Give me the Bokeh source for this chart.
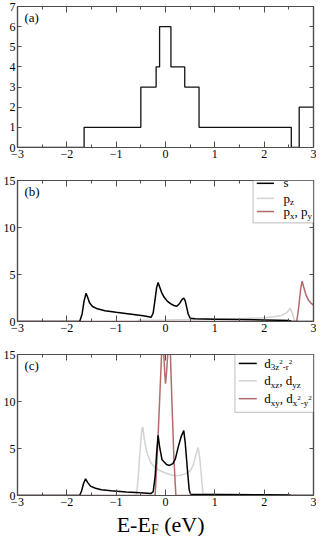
from bokeh.plotting import figure
from bokeh.models import Range1d, FixedTicker, LinearAxis, Label, BoxAnnotation
from bokeh.layouts import column
from bokeh.embed import file_html
from bokeh.resources import INLINE

# ---------------- data ----------------
X_TICKS = [-3, -2, -1, 0, 1, 2, 3]
X_MINOR = [-2.5, -1.5, -0.5, 0.5, 1.5, 2.5]
Y_TICKS_A = [0, 1, 2, 3, 4, 5, 6, 7]
Y_TICKS_BC = [0, 5, 10, 15]

# (a) step histogram
A_EDGES = [-3, -1.65, -0.5, -0.19, -0.12, 0.11, 0.39, 0.68, 2.55, 2.71, 3]
A_LEVELS = [0, 1, 3, 4, 6, 4, 3, 1, 0, 2]

# (b) s
S_E = [-3, -1.74, -1.69, -1.65, -1.61, -1.58, -1.54, -1.48, -1.38, -1.23, -1.0, -0.77,
       -0.45, -0.29, -0.25, -0.21, -0.18, -0.15, -0.12, -0.08, -0.03, 0.03, 0.1, 0.17,
       0.23, 0.29, 0.33, 0.37, 0.4, 0.43, 0.46, 0.5, 0.6, 1.0, 1.5, 2.0, 2.3, 2.5, 2.56, 3]
S_V = [0, 0, 0.8, 2.2, 3.0, 2.6, 2.0, 1.6, 1.35, 1.15, 0.98, 0.83,
       0.6, 0.45, 0.9, 2.4, 3.6, 4.15, 3.7, 3.1, 2.6, 2.2, 1.9, 1.7,
       1.62, 1.95, 2.3, 2.5, 2.2, 1.5, 0.8, 0.35, 0.28, 0.25, 0.21, 0.17, 0.14, 0.11, 0, 0]
# (b) p_z
PZ_E = [-3, -0.58, -0.55, 0.0, 0.5, 1.0, 1.5, 2.0, 2.2, 2.35, 2.45, 2.53, 2.57, 2.62, 3]
PZ_V = [0, 0, 0.12, 0.15, 0.2, 0.25, 0.3, 0.4, 0.5, 0.65, 0.9, 1.4, 0.9, 0, 0]
# (b) p_x, p_y
PXY_E = [-3, 2.66, 2.7, 2.74, 2.77, 2.8, 2.85, 2.9, 2.95, 3.0]
PXY_V = [0, 0, 1.5, 3.5, 4.3, 3.7, 2.8, 2.25, 1.95, 1.75]

# (c) d_{3z^2-r^2}
DZ_E = [-3, -1.74, -1.7, -1.66, -1.62, -1.58, -1.52, -1.42, -1.3, -1.1, -0.8, -0.5,
        -0.3, -0.25, -0.21, -0.18, -0.15, -0.12, -0.07, 0.02, 0.08, 0.15, 0.2, 0.26,
        0.32, 0.37, 0.4, 0.44, 0.48, 0.51, 1.0, 2.0, 2.5, 2.56, 3]
DZ_V = [0, 0, 0.5, 1.3, 1.77, 1.4, 1.0, 0.77, 0.62, 0.5, 0.38, 0.28,
        0.2, 0.4, 2.0, 4.5, 6.4, 5.2, 3.8, 3.3, 3.2, 3.4, 3.9, 5.2,
        6.3, 6.9, 5.6, 3.0, 0.6, 0.12, 0.1, 0.07, 0.05, 0, 0]
# (c) d_xz, d_yz
DXZ_E = [-3, -0.59, -0.56, -0.52, -0.48, -0.46, -0.43, -0.38, -0.3, -0.2, -0.1, 0.0,
         0.1, 0.2, 0.3, 0.4, 0.5, 0.56, 0.61, 0.66, 0.69, 0.72, 0.76, 1.0, 2.0, 2.5, 2.55, 3]
DXZ_V = [0, 0, 1.5, 4.5, 7.0, 7.3, 6.0, 4.6, 3.5, 2.9, 2.6, 2.4,
         2.2, 2.1, 2.15, 2.3, 2.6, 3.2, 4.2, 5.1, 4.2, 2.5, 0.15, 0.12, 0.08, 0.06, 0, 0]
# (c) d_xy, d_{x^2-y^2}
DXY_E = [-3, -0.21, -0.17, -0.12, -0.08, -0.06, -0.035, -0.015, 0.0, 0.02, 0.045,
         0.07, 0.1, 0.13, 0.17, 0.21, 3]
DXY_V = [0, 0, 4, 10, 15, 17, 15, 13, 11.9, 13, 15, 17, 15, 10, 4, 0, 0]

# ---------------- styling ----------------
FRAME = "#4d4d4d"
BLACK = "#000000"
GREY = "#d3d3d3"
RED = "#b36b6b"
FONT = "Liberation Serif"
TICK_SIZE = "12px"

W = {'d': 0.5, 'p': 0.5, 's': 0.389, 'x': 0.5, 'y': 0.5, 'z': 0.444, ',': 0.25, ' ': 0.25,
     '3': 0.5, '2': 0.5, '-': 0.333, 'r': 0.333, 'E': 0.611, '(': 0.333, 'e': 0.444,
     'V': 0.722, ')': 0.333, 'F': 0.556, 'a': 0.444, 'b': 0.5, 'c': 0.444}


def twidth(t, size):
    return sum(W.get(ch, 0.5) for ch in t) * size


def rich(p, x, y, pieces, dx0=0.0, dy0=0.0):
    """pieces: list of (text, size, dy) drawn left to right from (x, y)."""
    off = dx0
    for text, size, dy in pieces:
        stripped = text.lstrip(" ")
        off += twidth(text[:len(text) - len(stripped)], size)
        p.add_layout(Label(x=x, y=y, text=stripped, x_offset=off, y_offset=dy0 + dy,
                           text_font=FONT, text_font_size=f"{size}px",
                           text_align="left", text_baseline="middle",
                           text_color="black"))
        off += twidth(stripped, size)
    return off


def make_fig(ymax, yticks, h, top, bottom):
    p = figure(width=316, height=h, x_range=Range1d(-3, 3), y_range=Range1d(0, ymax),
               output_backend="svg", toolbar_location=None, tools="",
               min_border_left=15, min_border_right=3, min_border_top=top,
               min_border_bottom=bottom, x_axis_type=None, y_axis_type=None)
    p.xgrid.visible = False
    p.ygrid.visible = False
    p.outline_line_color = FRAME
    p.outline_line_width = 1.2
    p.background_fill_color = "white"
    p.border_fill_color = "white"

    xt = FixedTicker(ticks=X_TICKS, minor_ticks=X_MINOR)
    yt = FixedTicker(ticks=yticks)
    blank_x = {t: "" for t in X_TICKS}
    blank_y = {t: "" for t in yticks}
    for loc, ticker, blank in (("below", xt, None), ("above", xt, blank_x),
                               ("left", yt, None), ("right", yt, blank_y)):
        ax = LinearAxis(ticker=ticker)
        ax.axis_line_color = FRAME
        ax.axis_line_width = 1.2
        ax.major_tick_line_color = FRAME
        ax.minor_tick_line_color = FRAME
        ax.major_tick_out = 0
        ax.minor_tick_out = 0
        if loc in ("below", "above"):
            ax.major_tick_in = 6
            ax.minor_tick_in = 3
        else:
            ax.major_tick_in = 4
            ax.minor_tick_in = 0
        ax.major_label_text_font = FONT
        ax.major_label_text_color = "black"
        if blank is None:
            ax.major_label_text_font_size = TICK_SIZE
            ax.major_label_standoff = 2
        else:
            ax.major_label_overrides = blank
            ax.major_label_text_font_size = "0px"
            ax.major_label_standoff = 0
        p.add_layout(ax, loc)
    return p


# ---------------- panel (a) ----------------
pa = make_fig(7, Y_TICKS_A, 167, 6, 20)
pa.step(x=A_EDGES, y=A_LEVELS + [A_LEVELS[-1]], mode="after", line_color="#111111",
        line_width=1.3)
rich(pa, -2.86, 7, [("(a)", 13, 0)], dy0=-11)

# ---------------- panel (b) ----------------
pb = make_fig(15, Y_TICKS_BC, 174, 13, 20)
pb.line(PZ_E, PZ_V, line_color=GREY, line_width=1.5)
pb.line(PXY_E, PXY_V, line_color=RED, line_width=1.5)
pb.line(S_E, S_V, line_color=BLACK, line_width=1.5)
rich(pb, -2.86, 15, [("(b)", 13, 0)], dy0=-11)

LEG_B_BOX = (1.775, 3.0, 10.5, 15.0)
LEG_B_Y = [14.7, 13.1, 11.7]
LEG_B_X = (1.85, 2.2, 2.39)
pb.add_layout(BoxAnnotation(left=LEG_B_BOX[0], right=LEG_B_BOX[1], bottom=LEG_B_BOX[2],
                            top=LEG_B_BOX[3], fill_color="white", fill_alpha=1.0,
                            line_color=FRAME, line_width=1.2))
for yv, col in zip(LEG_B_Y, [BLACK, GREY, RED]):
    pb.segment(x0=[LEG_B_X[0]], y0=[yv], x1=[LEG_B_X[1]], y1=[yv], line_color=col,
               line_width=1.5, level="overlay")
rich(pb, LEG_B_X[2], LEG_B_Y[0], [("s", 13, 1)])
rich(pb, LEG_B_X[2], LEG_B_Y[1], [("p", 13, 0), ("z", 9, -4)])
rich(pb, LEG_B_X[2], LEG_B_Y[2], [("p", 13, 0), ("x", 9, -4), (",", 13, 0), (" p", 13, 0),
                                  ("y", 9, -4)])

# ---------------- panel (c) ----------------
pc = make_fig(15, Y_TICKS_BC, 172, 13, 18)
pc.line(DXZ_E, DXZ_V, line_color=GREY, line_width=1.5)
pc.line(DXY_E, DXY_V, line_color=RED, line_width=1.5)
pc.line(DZ_E, DZ_V, line_color=BLACK, line_width=1.5)
rich(pc, -2.86, 15, [("(c)", 13, 0)], dy0=-11)

LEG_C_BOX = (1.407, 3.0, 8.85, 15.0)
LEG_C_Y = [14.05, 12.2, 10.3]
LEG_C_X = (1.485, 1.85, 2.0)
pc.add_layout(BoxAnnotation(left=LEG_C_BOX[0], right=LEG_C_BOX[1], bottom=LEG_C_BOX[2],
                            top=LEG_C_BOX[3], fill_color="white", fill_alpha=1.0,
                            line_color=FRAME, line_width=1.2))
for yv, col in zip(LEG_C_Y, [BLACK, GREY, RED]):
    pc.segment(x0=[LEG_C_X[0]], y0=[yv], x1=[LEG_C_X[1]], y1=[yv], line_color=col,
               line_width=1.5, level="overlay")
rich(pc, LEG_C_X[2], LEG_C_Y[0], [("d", 13, 0), ("3z", 9, -4), ("2", 7, 1), ("-r", 9, -4),
                                  ("2", 7, 1)])
rich(pc, LEG_C_X[2], LEG_C_Y[1], [("d", 13, 0), ("xz", 9, -4), (",", 13, 0), (" d", 13, 0),
                                  ("yz", 9, -4)])
rich(pc, LEG_C_X[2], LEG_C_Y[2], [("d", 13, 0), ("xy", 9, -4), (",", 13, 0), (" d", 13, 0),
                                  ("x", 9, -4), ("2", 7, 1), ("-y", 9, -4), ("2", 7, 1)])

# ---------------- x-axis title "E-E_F (eV)" in its own strip ----------------
pt = figure(width=316, height=23, x_range=Range1d(-3, 3), y_range=Range1d(0, 1),
            output_backend="svg", toolbar_location=None, tools="",
            min_border_left=15, min_border_right=3, min_border_top=0, min_border_bottom=0,
            x_axis_type=None, y_axis_type=None)
pt.xgrid.visible = False
pt.ygrid.visible = False
pt.outline_line_color = None
title_pieces = [("E-E", 22, 0), ("F", 14, -5), (" (eV)", 22, 0)]
tw = sum(twidth(t, s) for t, s, _ in title_pieces)
rich(pt, -0.1, 0.5, title_pieces, dx0=-tw / 2, dy0=1)

layout = column(pa, pb, pc, pt, spacing=0)
open("out.html", "w").write(file_html(layout, INLINE))
